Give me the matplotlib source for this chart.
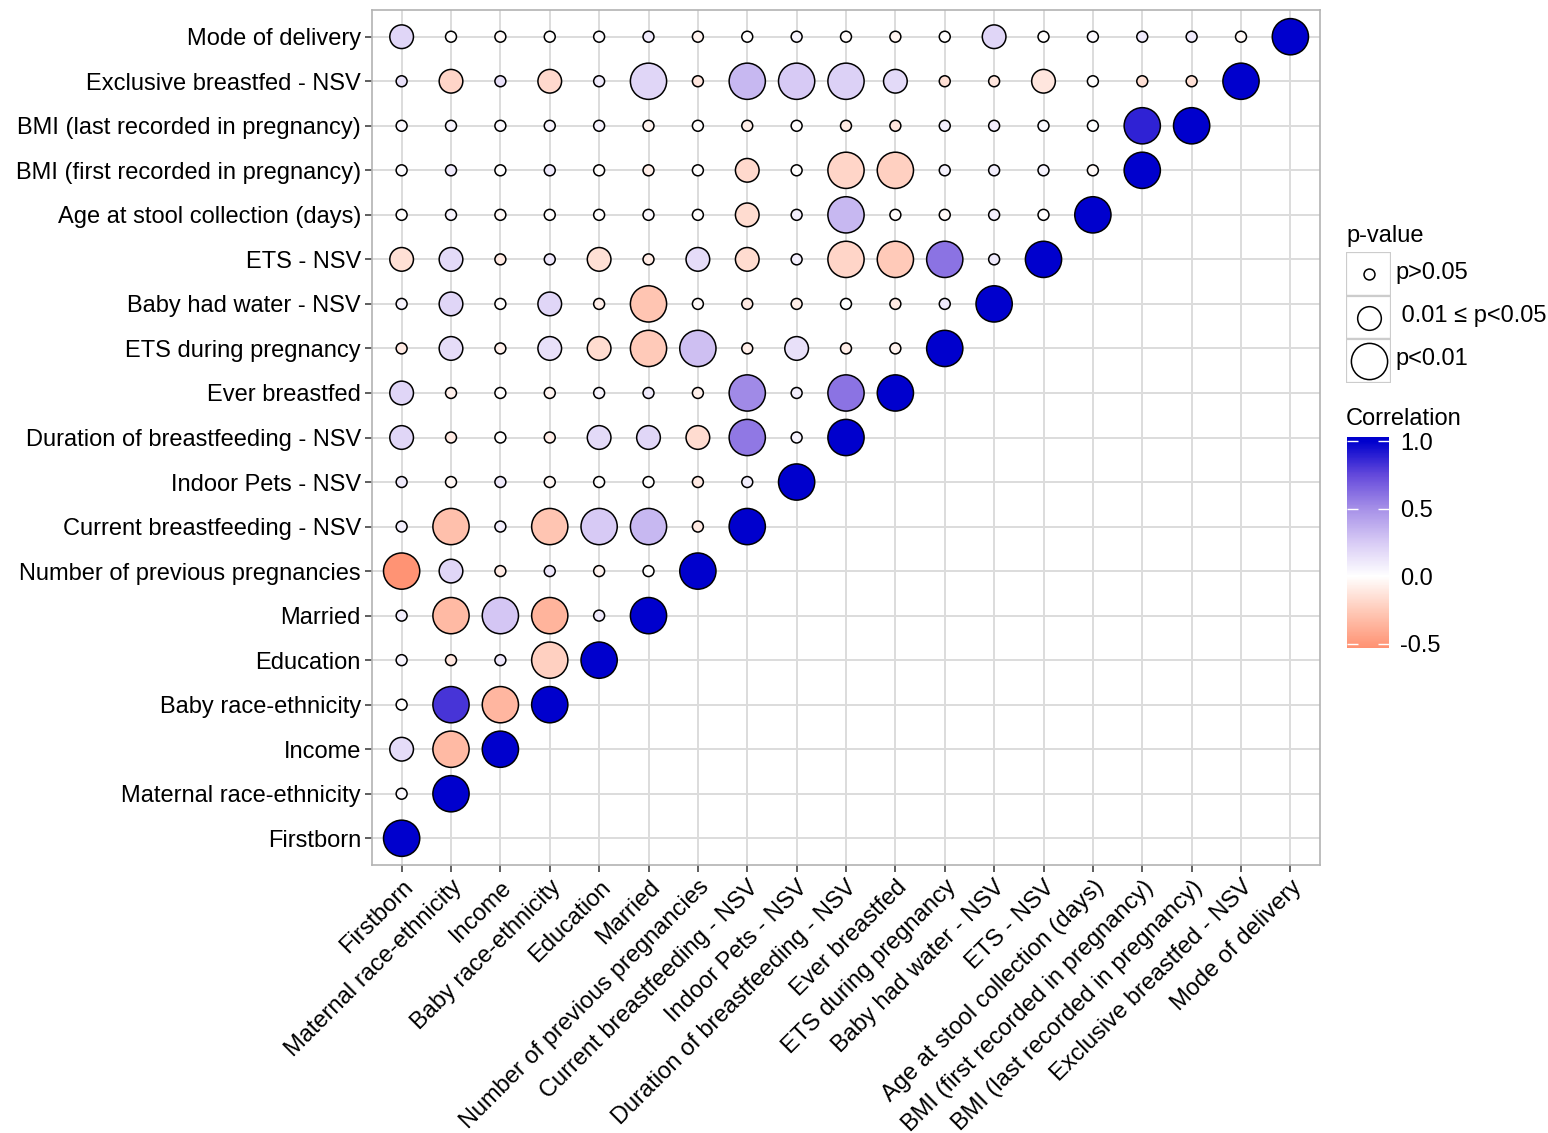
import matplotlib
matplotlib.use("Agg")
import matplotlib.pyplot as plt
from matplotlib.colors import LinearSegmentedColormap, Normalize
from matplotlib.cm import ScalarMappable
from matplotlib.patches import Rectangle

plt.rcParams["font.family"] = ["Liberation Sans", "DejaVu Sans"]

labels = [
    "Firstborn", "Maternal race-ethnicity", "Income", "Baby race-ethnicity",
    "Education", "Married", "Number of previous pregnancies",
    "Current breastfeeding - NSV", "Indoor Pets - NSV",
    "Duration of breastfeeding - NSV", "Ever breastfed", "ETS during pregnancy",
    "Baby had water - NSV", "ETS - NSV", "Age at stool collection (days)",
    "BMI (first recorded in pregnancy)", "BMI (last recorded in pregnancy)",
    "Exclusive breastfed - NSV", "Mode of delivery",
]

# correlation of row variable with each earlier variable (diagonal = 1)
corr = [
    [],
    [0.03],
    [0.17, -0.33],
    [0.0, 0.82, -0.35],
    [0.05, -0.12, 0.12, -0.22],
    [0.08, -0.33, 0.27, -0.36, 0.10],
    [-0.52, 0.20, -0.10, 0.12, -0.06, 0.0],
    [0.08, -0.30, 0.08, -0.28, 0.25, 0.33, -0.10],
    [0.10, -0.04, 0.10, -0.04, 0.0, 0.0, -0.10, 0.08],
    [0.20, -0.10, 0.0, -0.08, 0.18, 0.20, -0.17, 0.58, 0.06],
    [0.20, -0.07, 0.0, -0.05, 0.05, 0.10, -0.07, 0.52, 0.08, 0.60],
    [-0.10, 0.17, -0.07, 0.15, -0.17, -0.25, 0.30, -0.08, 0.15, -0.08, -0.06],
    [0.06, 0.20, 0.0, 0.20, -0.08, -0.28, -0.02, -0.10, -0.08, 0.0, -0.10, 0.10],
    [-0.15, 0.18, -0.10, 0.12, -0.15, -0.10, 0.17, -0.17, 0.08, -0.20, -0.25, 0.60, 0.10],
    [0.0, 0.05, -0.03, 0.0, 0.0, 0.03, 0.0, -0.17, 0.08, 0.33, 0.0, -0.02, 0.08, 0.0],
    [0.02, 0.10, 0.0, 0.10, -0.01, -0.08, 0.0, -0.18, 0.0, -0.20, -0.22, 0.07, 0.08, 0.06, -0.03],
    [0.03, 0.05, 0.03, 0.05, 0.06, -0.05, 0.0, -0.08, -0.01, -0.10, -0.12, 0.08, 0.08, 0.03, 0.0, 0.88],
    [0.15, -0.20, 0.15, -0.18, 0.10, 0.20, -0.12, 0.33, 0.25, 0.22, 0.18, -0.15, -0.12, -0.12, 0.0, -0.15, -0.15],
    [0.20, 0.0, -0.02, 0.0, 0.02, 0.10, -0.05, 0.0, 0.05, -0.02, -0.05, 0.0, 0.20, 0.0, 0.03, 0.10, 0.10, -0.03],
]

# p-value class: s = p>0.05, m = 0.01<=p<0.05, l = p<0.01
pcat = [
    "",
    "s",
    "ml",
    "sll",
    "sssl",
    "sllls",
    "lmssss",
    "slsllls",
    "ssssssss",
    "msssmmmls",
    "m" + "ssssss" + "lsl",
    "smsmmllsmss",
    "smsmslssssss",
    "mmssmsmmsllls",
    "sssssss" + "msl" + "ssss",
    "sssssss" + "msll" + "ssss",
    "s" * 15 + "l",
    "smsmslslllmssmsss",
    "m" + "s" * 11 + "m" + "s" * 5,
]

pval_labels = ["p>0.05", " 0.01 \u2264 p<0.05", "p<0.01"]
cbar_ticks = [-0.5, 0.0, 0.5, 1.0]

for i, (c, p) in enumerate(zip(corr, pcat)):
    assert len(c) == i and len(p) == i, i

size_map = {"s": 62, "m": 290, "l": 680}

vmin, vmax = -0.53, 1.03
anchors = [(-0.53, "#FF9272"), (-0.25, "#FFCBBA"), (0.0, "#FFFFFF"),
           (0.25, "#D8CBF5"), (0.5, "#A690E8"), (0.75, "#6449DB"),
           (1.0, "#0000CD"), (1.03, "#0000CD")]
cmap = LinearSegmentedColormap.from_list(
    "corr", [((v - vmin) / (vmax - vmin), col) for v, col in anchors])
norm = Normalize(vmin=vmin, vmax=vmax)

xs, ys, cs, ss = [], [], [], []
for row, (vals, cats) in enumerate(zip(corr, pcat)):
    for col, (v, pc) in enumerate(zip(vals, cats)):
        xs.append(col)
        ys.append(row)
        cs.append(v)
        ss.append(size_map[pc])
    xs.append(row)
    ys.append(row)
    cs.append(1.0)
    ss.append(size_map["l"])

W, H = 1548, 1133
fig = plt.figure(figsize=(W / 100, H / 100), dpi=100)
ax = fig.add_axes([372 / W, 1 - 865 / H, (1320 - 372) / W, (865 - 10) / H])

n = len(labels)
ax.scatter(xs, ys, s=ss, c=cs, cmap=cmap, norm=norm, edgecolors="black",
           linewidths=1.1, zorder=3)
ax.set_xlim(-0.6, n - 1 + 0.6)
ax.set_ylim(-0.6, n - 1 + 0.6)
ax.set_xticks(range(n))
ax.set_yticks(range(n))
ax.set_xticklabels(labels, rotation=45, ha="right", va="top",
                   rotation_mode="anchor", fontsize=17)
ax.set_yticklabels(labels, fontsize=17)
ax.tick_params(length=5, width=1.1, color="#333333", pad=3)
ax.grid(True, color="#DCDCDC", linewidth=1.4, zorder=0)
ax.set_axisbelow(True)
for sp in ax.spines.values():
    sp.set_color("#B3B3B3")
    sp.set_linewidth(1.2)

# p-value legend
fig.text(1346 / W, 1 - 236 / H, "p-value", fontsize=17, va="center", ha="left")
lax = fig.add_axes([1346 / W, 1 - 383 / H, 45 / W, (383 - 252) / H])
lax.set_xlim(0, 1)
lax.set_ylim(0, 3)
lax.axis("off")
for k, key in enumerate(["s", "m", "l"]):
    yk = 2 - k
    lax.add_patch(Rectangle((0, yk), 1, 1, facecolor="white",
                            edgecolor="#CCCCCC", linewidth=1.6))
    lax.scatter([0.5], [yk + 0.5], s=size_map[key], facecolors="white",
                edgecolors="black", linewidths=1.1, zorder=3)
    fig.text(1395 / W, 1 - (273 + 43 * k) / H, pval_labels[k], fontsize=17,
             va="center", ha="left")

# correlation colourbar
fig.text(1346 / W, 1 - 419 / H, "Correlation", fontsize=17, va="center", ha="left")
cax = fig.add_axes([1347 / W, 1 - 648 / H, 42 / W, (648 - 437) / H])
cb = fig.colorbar(ScalarMappable(norm=norm, cmap=cmap), cax=cax, ticks=cbar_ticks)
cb.outline.set_visible(False)
cb.ax.set_yticklabels([f"{t:.1f}" for t in cbar_ticks], fontsize=17)
cax.tick_params(direction="in", color="white", length=8, width=1,
                left=True, right=True, labelleft=False, labelright=True, pad=8)

fig.savefig("out.png", dpi=100, facecolor="white")
